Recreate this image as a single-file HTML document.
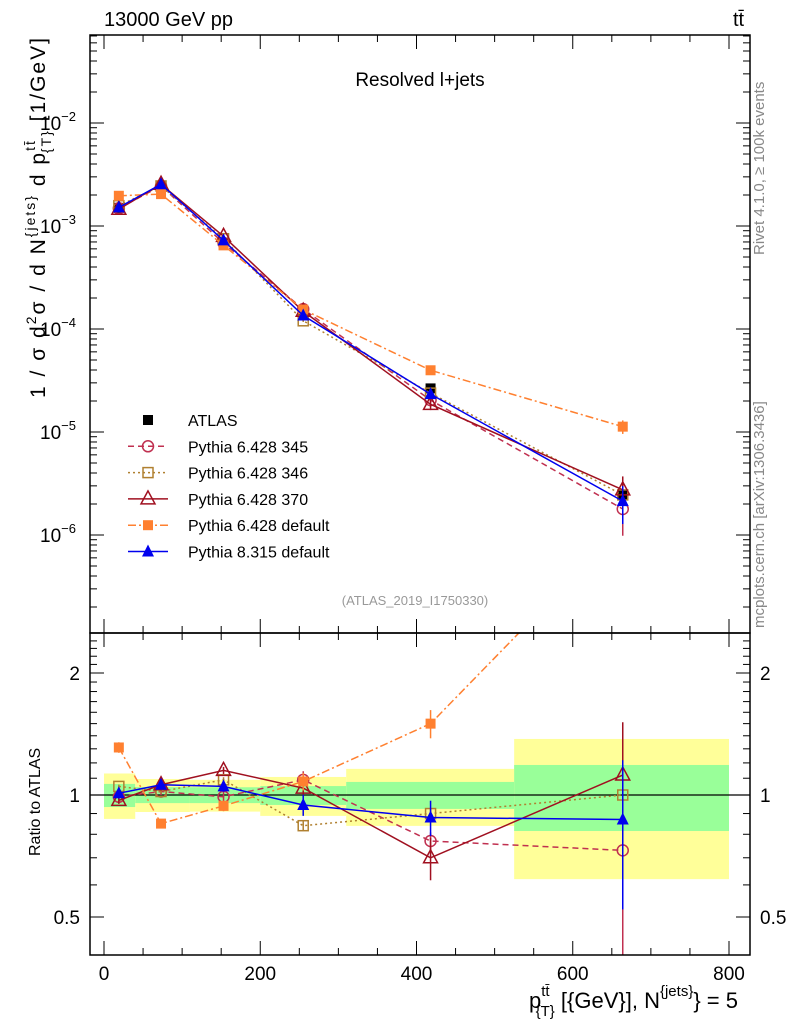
<!DOCTYPE html>
<html><head><meta charset="utf-8">
<style>
html,body{margin:0;padding:0;background:#fff;}
svg{display:block;font-family:"Liberation Sans",sans-serif;}
</style></head>
<body>
<svg id="chart" width="786" height="1024" viewBox="0 0 786 1024" xmlns="http://www.w3.org/2000/svg">
<g id="bands"></g>
<g id="series"></g>
<g id="axes"></g>
<rect x="90" y="35" width="660" height="598" fill="none" stroke="#000" stroke-width="1.5"/>
<rect x="90" y="633" width="660" height="322" fill="none" stroke="#000" stroke-width="1.5"/>
<text x="104" y="26" font-size="20">13000 GeV pp</text>
<text x="733" y="26" font-size="20">tt̄</text>
<text x="420" y="86" font-size="19" text-anchor="middle">Resolved l+jets</text>
<text x="415" y="605" font-size="13" fill="#999" text-anchor="middle">(ATLAS_2019_I1750330)</text>
<text transform="translate(764,255) rotate(-90)" font-size="15" fill="#888">Rivet 4.1.0, ≥ 100k events</text>
<text transform="translate(764,628) rotate(-90)" font-size="15" fill="#888">mcplots.cern.ch [arXiv:1306.3436]</text>
<text transform="translate(45,398) rotate(-90)" font-size="21" textLength="360" lengthAdjust="spacing">1 / σ d<tspan font-size="14" dy="-9">2</tspan><tspan dy="9">σ / d N</tspan><tspan font-size="14" dy="-10">{jets}</tspan><tspan dy="10"> d p</tspan><tspan font-size="14" dy="-10">tt̄</tspan><tspan font-size="14" dx="-14" dy="16">{T}</tspan><tspan dy="-6"> [1/GeV]</tspan></text>
<text transform="translate(40,856) rotate(-90)" font-size="16">Ratio to ATLAS</text>
<text x="738" y="1008" font-size="22" text-anchor="end">p<tspan font-size="15" dy="-12">tt̄</tspan><tspan font-size="15" dx="-14" dy="20">{T}</tspan><tspan dy="-8"> [{GeV}], N</tspan><tspan font-size="15" dy="-12">{jets}</tspan><tspan dy="12">} = 5</tspan></text>
<g id="legend"></g>
</svg>
<script>
const xCenters=[19,73,153,255,418,664];
const binEdges=[0,40,110,200,310,525,800];
const atlasVals=[1.5e-3,2.4e-3,6.9e-4,1.43e-4,2.65e-5,2.45e-6];
const atlasErr=[0.05,0.04,0.05,0.06,0.08,0.2];
const yellowHi=[1.13,1.095,1.09,1.108,1.16,1.375];
const yellowLo=[0.873,0.908,0.91,0.888,0.839,0.62];
const greenHi=[1.065,1.046,1.045,1.052,1.077,1.186];
const greenLo=[0.934,0.955,0.955,0.945,0.924,0.815];
const ratio345=[0.99,1.02,0.99,1.09,0.77,0.73];
const ratio346=[1.05,1.02,1.09,0.84,0.9,1.0];
const ratio370=[0.97,1.06,1.15,1.04,0.70,1.12];
const ratioP6def=[1.31,0.85,0.94,1.08,1.5,4.6];
const ratioP8=[1.01,1.06,1.05,0.945,0.88,0.87];
const errRel345=[0.02,0.02,0.03,0.05,0.05,0.45];
const errRel370=[0.02,0.02,0.02,0.04,0.12,0.35];
const errRelP6=[0.03,0.02,0.03,0.05,0.08,0.15];
const errRelP8=[0.03,0.02,0.03,0.06,0.1,0.4];
const xTicks=[0,200,400,600,800];
const mainDecades=[-6,-5,-4,-3,-2];
const ratioTicks=[0.5,1,2];

const NS="http://www.w3.org/2000/svg";
const X=v=>104+v*0.78125;
const Y=v=>123-(Math.log10(v)+2)*103;
const R=v=>795-Math.log2(v)*122;
const RY=v=>Math.max(633,Math.min(955,R(v)));
function mk(tag,at,parent){const e=document.createElementNS(NS,tag);for(const k in at)e.setAttribute(k,at[k]);parent.appendChild(e);return e;}
const bands=document.getElementById('bands'),ser=document.getElementById('series'),axes=document.getElementById('axes'),leg=document.getElementById('legend');

for(let i=0;i<6;i++){
  const x0=X(binEdges[i]),x1=X(binEdges[i+1]);
  const y=mk('rect',{x:x0,y:R(yellowHi[i]),width:x1-x0,height:R(yellowLo[i])-R(yellowHi[i]),fill:'#ffff99'},bands);
  
  
  const g=mk('rect',{x:x0,y:R(greenHi[i]),width:x1-x0,height:R(greenLo[i])-R(greenHi[i]),fill:'#99ff99'},bands);
  
  
}
const one=mk('line',{x1:90,x2:750,y1:R(1),y2:R(1),stroke:'#000','stroke-width':1.2},bands);



for(let v=0;v<=800;v+=50){
  const major=v%200===0;const L=major?14:7;
  for(const [yb,dir] of [[955,-1],[633,1],[633,-1],[35,1]]){
    mk('line',{x1:X(v),x2:X(v),y1:yb,y2:yb+dir*L,stroke:'#000','stroke-width':1},axes);
  }
}
xTicks.forEach(v=>{const t=mk('text',{x:X(v),y:980,'font-size':19,'text-anchor':'middle'},axes);t.textContent=v;
  
  });
for(let d=-7;d<=-2;d++){
  for(let m=1;m<10;m++){const v=m*Math.pow(10,d);const y=Y(v);if(y<35||y>633)continue;
    const L=m===1?14:7;
    mk('line',{x1:90,x2:90+L,y1:y,y2:y,stroke:'#000'},axes);
    mk('line',{x1:750,x2:750-L,y1:y,y2:y,stroke:'#000'},axes);}
}
mainDecades.forEach(d=>{const t=mk('text',{x:58,y:Y(Math.pow(10,d))+7,'font-size':19,'text-anchor':'middle'},axes);
  t.innerHTML='10<tspan font-size="13" dy="-9">'+(d<0?'−':'')+Math.abs(d)+'</tspan>';
  
  });
for(let v=0.4;v<=2.5;v+=0.1){const y=R(v);if(y<633||y>955)continue;
  const major=[0.5,1,2].some(a=>Math.abs(a-v)<1e-6);const L=major?14:7;
  mk('line',{x1:90,x2:90+L,y1:y,y2:y,stroke:'#000'},axes);mk('line',{x1:750,x2:750-L,y1:y,y2:y,stroke:'#000'},axes);}
ratioTicks.forEach(v=>{
  const t=mk('text',{x:80,y:R(v)+7,'font-size':19,'text-anchor':'end'},axes);t.textContent=v;
  
  
  const t2=mk('text',{x:760,y:R(v)+7,'font-size':19,'text-anchor':'start'},axes);t2.textContent=v;
  
  });

function marker(type,color,x,y,p){
  if(type==='sqfill')return mk('rect',{x:x-5,y:y-5,width:10,height:10,fill:color},p);
  if(type==='sqopen')return mk('rect',{x:x-5,y:y-5,width:10,height:10,fill:'none',stroke:color,'stroke-width':1.5},p);
  if(type==='circ')return mk('circle',{cx:x,cy:y,r:5.5,fill:'none',stroke:color,'stroke-width':1.5},p);
  if(type==='triopen')return mk('polygon',{points:`${x},${y-8} ${x-7},${y+5} ${x+7},${y+5}`,fill:'none',stroke:color,'stroke-width':1.5},p);
  if(type==='trifill')return mk('polygon',{points:`${x},${y-7} ${x-6},${y+5} ${x+6},${y+5}`,fill:color},p);
}
const series=[
  {name:'Pythia 6.428 345',r:ratio345,err:errRel345,color:'#c03050',dash:'6,4',m:'circ'},
  {name:'Pythia 6.428 346',r:ratio346,err:errRel345.map(e=>e*0.5),color:'#b08030',dash:'2,3',m:'sqopen'},
  {name:'Pythia 6.428 370',r:ratio370,err:errRel370,color:'#a01020',dash:'',m:'triopen'},
  {name:'Pythia 6.428 default',r:ratioP6def,err:errRelP6,color:'#ff8030',dash:'8,3,2,3',m:'sqfill'},
  {name:'Pythia 8.315 default',r:ratioP8,err:errRelP8,color:'#0000ee',dash:'',m:'trifill'}
];
// ATLAS data drawn first (under MC)
xCenters.forEach((x,i)=>{
  const v=atlasVals[i];
  mk('line',{x1:X(x),x2:X(x),y1:Y(v*(1+atlasErr[i])),y2:Y(v*(1-atlasErr[i])),stroke:'#000','stroke-width':1.5},ser);
  const r=mk('rect',{x:X(x)-5,y:Y(v)-5,width:10,height:10,fill:'#000'},ser);
  
  
});
series.forEach((s,si)=>{
  const g=mk('g',{},ser);
  
  
  const mainPts=xCenters.map((x,i)=>[X(x),Y(atlasVals[i]*s.r[i])]);
  const l=mk('polyline',{points:mainPts.map(p=>p.join(',')).join(' '),fill:'none',stroke:s.color,'stroke-width':1.5,'stroke-dasharray':s.dash},g);
  
  
  const cp=mk('clipPath',{id:'rc'+si},g);mk('rect',{x:90,y:633,width:660,height:322},cp);
  const rl=mk('polyline',{points:xCenters.map((x,i)=>X(x)+','+R(s.r[i])).join(' '),fill:'none',stroke:s.color,'stroke-width':1.5,'stroke-dasharray':s.dash,'clip-path':'url(#rc'+si+')'},g);
  
  
  xCenters.forEach((x,i)=>{
    const v=atlasVals[i]*s.r[i],e=s.err[i];
    mk('line',{x1:X(x),x2:X(x),y1:Y(v*(1+e)),y2:Y(Math.max(v*(1-e),1e-8)),stroke:s.color,'stroke-width':1.5},g);
    marker(s.m,s.color,X(x),Y(v),g);
    if(R(s.r[i])>=633&&R(s.r[i])<=955){
      mk('line',{x1:X(x),x2:X(x),y1:RY(s.r[i]*(1+e)),y2:RY(Math.max(s.r[i]*(1-e),0.01)),stroke:s.color,'stroke-width':1.5},g);
      marker(s.m,s.color,X(x),R(s.r[i]),g);}
  });
});
const legItems=[{name:'ATLAS',m:'sqfill',color:'#000',dash:null}].concat(series);
legItems.forEach((s,i)=>{
  const y=420+i*26.3;
  const g=mk('g',{},leg);
  
  
  if(s.dash!==null)mk('line',{x1:128,x2:168,y1:y,y2:y,stroke:s.color,'stroke-width':1.5,'stroke-dasharray':s.dash},g);
  marker(s.m,s.color,148,y,g);
  const t=mk('text',{x:188,y:y+6,'font-size':16},g);t.textContent=s.name;
});
</script>
</body></html>
